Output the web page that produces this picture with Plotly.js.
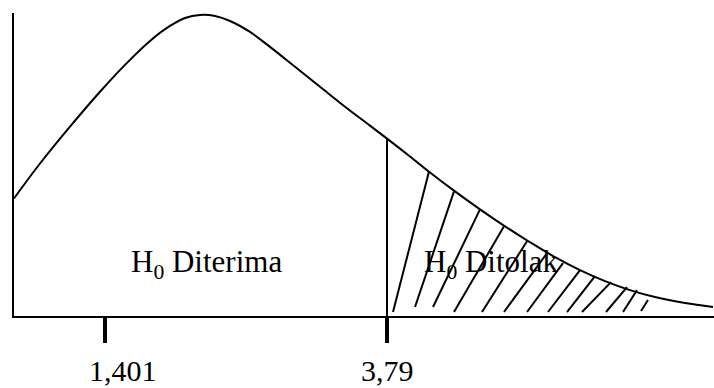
<!DOCTYPE html>
<html>
<head>
<meta charset="utf-8">
<script src="https://cdn.plot.ly/plotly-3.0.1.min.js"></script>
<style>
  html, body { margin: 0; padding: 0; background: #fff; }
  #chart { width: 714px; height: 388px; }
</style>
</head>
<body>
<div id="chart"></div>
<script>
// F-distribution sketch: density curve in schematic units
var curveX = [0, 26, 56, 86, 111, 136, 156, 171, 186, 201, 216, 236, 256, 281, 306, 331, 356, 373, 396, 416, 441, 466, 491, 516, 541, 566, 591, 616, 641, 671, 699];
var curveY = [118, 153, 190, 225, 252, 276, 291, 299, 302, 301, 296, 285, 270, 250, 230, 210, 191, 178, 160, 144, 125, 107, 90, 74, 59, 46, 35, 26, 19, 13, 9];

// critical values marked on the axis
var tickPos = [91, 373];
var tickText = ['1,401', '3,79'];
var critX = 373;
var critY = 178;

// hatching of the rejection region (start and end of each stroke)
var hatchX0 = [379, 401, 419, 440, 468, 490, 513, 534, 553, 568, 592, 609, 627];
var hatchY0 = [4, 9, 9, 4, 4, 4, 4, 4, 4, 4, 4, 4, 5];
var hatchX1 = [415, 440, 466, 490, 513, 533, 549, 566, 581, 597, 613, 623, 634];
var hatchY1 = [145, 125, 107, 90, 75, 63, 53, 46, 40, 34, 29, 26, 16];

// region labels
var regionText = ['H<sub>0</sub> Diterima', 'H<sub>0</sub> Ditolak'];
var regionX = [192, 477];

var hx = [], hy = [];
for (var i = 0; i < hatchX0.length; i++) {
  hx.push(hatchX0[i], hatchX1[i], null);
  hy.push(hatchY0[i], hatchY1[i], null);
}

var FONT = 'Liberation Serif';

var traces = [
  {
    x: curveX, y: curveY, type: 'scatter', mode: 'lines',
    line: { color: '#000', width: 2, shape: 'spline', smoothing: 1 },
    hoverinfo: 'skip'
  },
  {
    x: [critX, critX], y: [0, critY], type: 'scatter', mode: 'lines',
    line: { color: '#000', width: 2 }, hoverinfo: 'skip'
  },
  {
    x: hx, y: hy, type: 'scatter', mode: 'lines',
    line: { color: '#000', width: 2 }, hoverinfo: 'skip'
  }
];

var annotations = [];
var labelShift = [18, 0];
for (var k = 0; k < tickPos.length; k++) {
  annotations.push({
    x: tickPos[k], xref: 'x', y: -0.181, yref: 'paper',
    text: tickText[k], showarrow: false, xshift: labelShift[k],
    xanchor: 'center', yanchor: 'middle',
    font: { family: FONT, size: 30, color: '#000' }
  });
}
for (var r = 0; r < regionText.length; r++) {
  annotations.push({
    x: regionX[r], xref: 'x', y: 52, yref: 'y',
    text: regionText[r], showarrow: false,
    xanchor: 'center', yanchor: 'middle',
    font: { family: FONT, size: 31, color: '#000' }
  });
}

var layout = {
  width: 714, height: 388,
  margin: { l: 14, r: 0, t: 13, b: 72, pad: 0 },
  paper_bgcolor: '#fff', plot_bgcolor: '#fff',
  font: { family: FONT, size: 30, color: '#000' },
  showlegend: false,
  xaxis: {
    range: [0, 700], showgrid: false, zeroline: false,
    showline: true, linecolor: '#000', linewidth: 2,
    ticks: 'outside', tickvals: tickPos, ticklen: 25, tickwidth: 4, tickcolor: '#000',
    showticklabels: false, fixedrange: true
  },
  yaxis: {
    range: [0, 304], showgrid: false, zeroline: false,
    showline: true, linecolor: '#000', linewidth: 2,
    ticks: '', showticklabels: false, fixedrange: true
  },
  annotations: annotations
};

Plotly.newPlot('chart', traces, layout, { staticPlot: true, displayModeBar: false });
</script>
</body>
</html>
